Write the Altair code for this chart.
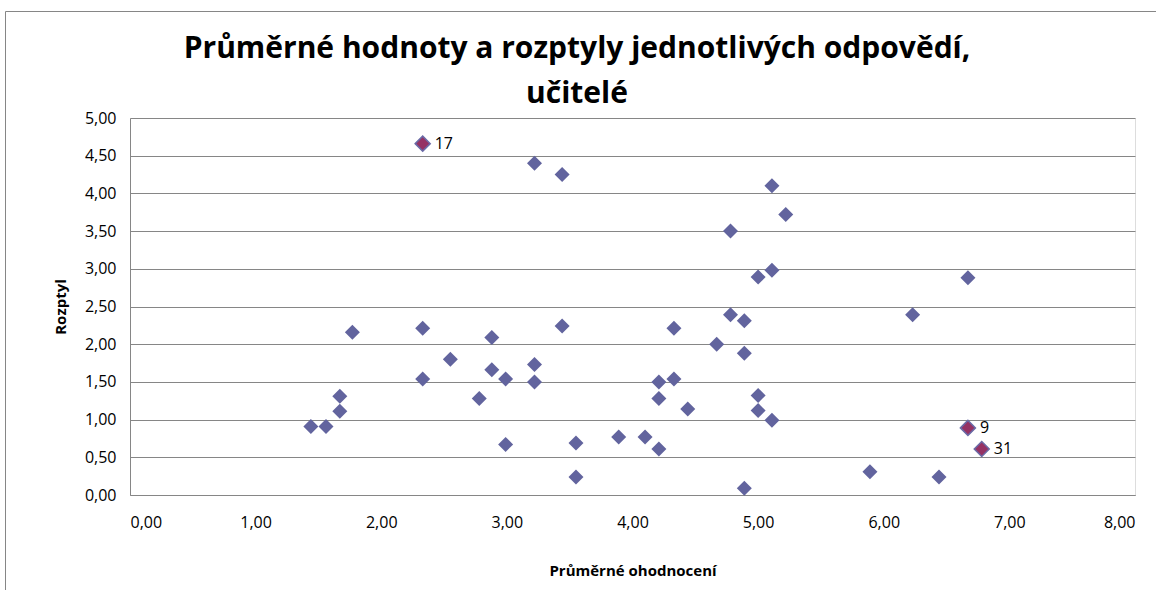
import altair as alt
import pandas as pd

# Průměrné ohodnocení (x) a rozptyl (y) jednotlivých otázek
prumer = [1.44, 1.56, 1.67, 1.67, 1.77, 2.33, 2.33, 2.55, 2.88, 2.88,
          2.78, 2.99, 2.99, 3.22, 3.22, 3.44, 3.55, 3.55, 3.89, 4.10,
          4.21, 4.21, 4.21, 4.33, 4.33, 4.44, 4.67, 4.78, 4.89, 4.89,
          5.00, 5.00, 5.11, 4.89, 3.22, 3.44, 5.11, 5.22, 4.78, 5.11,
          5.00, 6.67, 6.23, 5.89, 6.44]
rozptyl = [0.91, 0.91, 1.11, 1.31, 2.16, 2.21, 1.54, 1.80, 2.09, 1.66,
           1.28, 1.54, 0.67, 1.73, 1.50, 2.24, 0.69, 0.24, 0.77, 0.77,
           0.61, 1.50, 1.28, 2.21, 1.54, 1.14, 2.00, 2.39, 2.31, 1.88,
           1.32, 1.12, 0.99, 0.09, 4.40, 4.25, 4.10, 3.72, 3.50, 2.98,
           2.89, 2.88, 2.39, 0.31, 0.24]

# zvýrazněné otázky
vyber_cislo = ["17", "9", "31"]
vyber_prumer = [2.33, 6.67, 6.78]
vyber_rozptyl = [4.66, 0.89, 0.61]

y_ticks = [0.0, 0.5, 1.0, 1.5, 2.0, 2.5, 3.0, 3.5, 4.0, 4.5, 5.0]
x_ticks = [0, 1, 2, 3, 4, 5, 6, 7, 8]

nadpis = ["Průměrné hodnoty a rozptyly jednotlivých odpovědí,", "učitelé"]

df = pd.DataFrame({"prumer": prumer, "rozptyl": rozptyl})
dfv = pd.DataFrame({"prumer": vyber_prumer, "rozptyl": vyber_rozptyl, "cislo": vyber_cislo})
one = pd.DataFrame({"k": [0]})

FONT = "Open Sans"
GRID = "#868686"
comma = "replace(format(datum.value, '.2f'), '.', ',')"

x = alt.X("prumer:Q", scale=alt.Scale(domain=[0, 8], nice=False, zero=False),
          axis=alt.Axis(values=x_ticks, grid=False, ticks=False, labelExpr=comma,
                        labelFontSize=16, labelColor="#000000", labelFont=FONT,
                        labelPadding=19, domainColor=GRID, labelOverlap=False,
                        title="Průměrné ohodnocení", titleFont=FONT, titleFontSize=15,
                        titleFontWeight="bold", titleColor="#000000",
                        titleY=75, titleBaseline="middle"))
y = alt.Y("rozptyl:Q", scale=alt.Scale(domain=[0, 5], nice=False, zero=False),
          axis=alt.Axis(values=y_ticks, tickCount=11, grid=True, gridColor=GRID,
                        gridOpacity=1, ticks=False, labelExpr=comma, labelFontSize=16,
                        labelColor="#000000", labelFont=FONT, labelPadding=14,
                        domainColor=GRID, labelOverlap=False,
                        title="Rozptyl", titleFont=FONT, titleFontSize=15,
                        titleFontWeight="bold", titleColor="#000000",
                        titleX=-70, titleY=188.5, titleAngle=270,
                        titleAlign="center", titleBaseline="middle"))

base = alt.Chart(df).mark_point(shape="diamond", size=225, filled=True,
                                color="#62649E", opacity=1).encode(x=x, y=y)

hi = alt.Chart(dfv).mark_point(shape="diamond", size=225, filled=True,
                               fill="#953264", stroke="#6A6AA6", strokeWidth=1.5,
                               opacity=1).encode(x=x, y=y)

labels = alt.Chart(dfv).mark_text(align="left", baseline="middle", dx=12,
                                  fontSize=16, font=FONT, color="#000000").encode(
    x=x, y=y, text="cislo:N")

title = alt.Chart(one).mark_text(text=nadpis, lineHeight=45, align="center",
                                 baseline="alphabetic", font=FONT, fontSize=30,
                                 fontWeight="bold", color="#000000").encode(
    x=alt.value(447), y=alt.value(-60))

frame_left = alt.Chart(one).mark_rule(color=GRID, strokeWidth=1).encode(
    x=alt.value(-124.5), y=alt.value(-106.5), y2=alt.value(480))
frame_top = alt.Chart(one).mark_rule(color=GRID, strokeWidth=1).encode(
    x=alt.value(-124.5), x2=alt.value(1030), y=alt.value(-106.5))

chart = alt.layer(frame_left, frame_top, base, hi, labels, title).properties(
    width=1005, height=377,
    autosize=alt.AutoSizeParams(type="none"),
    padding={"left": 130, "top": 118, "right": 21, "bottom": 95},
).configure_view(stroke=None).configure(background="#FFFFFF")

chart.save("out.html", embed_options={"renderer": "svg", "actions": False})
